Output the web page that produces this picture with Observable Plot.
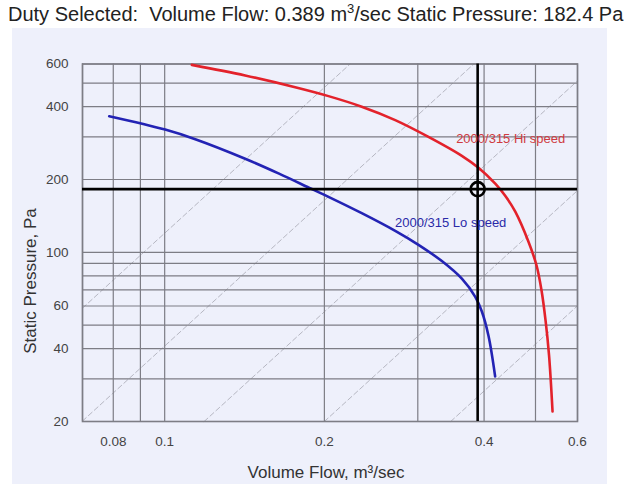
<!DOCTYPE html>
<html>
<head>
<meta charset="utf-8">
<script src="https://cdn.jsdelivr.net/npm/d3@7"></script>
<script src="https://cdn.jsdelivr.net/npm/@observablehq/plot@0.6"></script>
<style>
  html, body { margin: 0; padding: 0; background: #ffffff; }
  #wrap { position: relative; width: 626px; height: 484px; overflow: hidden; font-family: "Liberation Sans", Arial, sans-serif; }
  #title { position: absolute; left: 8px; top: 1px; font-size: 20px; line-height: 26px; color: #222; white-space: nowrap; }
  #title sup { font-size: 13px; line-height: 0; }
  #panel { position: absolute; left: 12px; top: 28px; width: 595px; height: 456px; background: #eef0fb; }
  #chart { position: absolute; left: 0; top: 28px; }
  #ytitle { position: absolute; left: 31px; top: 281px; transform: translate(-50%, -50%) rotate(-90deg); font-size: 17px; color: #333; white-space: nowrap; }
</style>
</head>
<body>
<div id="wrap">
  <div id="panel"></div>
  <div id="title">Duty Selected:&nbsp; Volume Flow: 0.389 m<sup>3</sup>/sec Static Pressure: 182.4 Pa</div>
  <div id="chart"></div>
  <div id="ytitle">Static Pressure, Pa</div>
</div>
<script>
// ---- data ----
const flowTicks = [0.08, 0.1, 0.2, 0.4, 0.6];
const pressureTicks = [20, 40, 60, 80, 100, 200, 400, 600];
const flowGrid = [0.07, 0.08, 0.09, 0.1, 0.2, 0.3, 0.4, 0.5, 0.6];
const pressureGrid = [20, 30, 40, 50, 60, 70, 80, 90, 100, 200, 300, 400, 500, 600];

const hiFlow =     [0.1125, 0.1418, 0.1762, 0.2036, 0.2352, 0.272, 0.3142, 0.3632, 0.3904, 0.4199, 0.4384, 0.458, 0.485, 0.5023, 0.5133, 0.5223, 0.5303, 0.5384];
const hiPressure = [595,    538,    481,    442,    399.7,  351.9, 300,    250.5,  223.5,  192.1,  171.4,  147.2, 110.6, 88.2,   69.5,   52.3,   37.5,   22.0];

const loFlow =     [0.0786, 0.1002, 0.1142, 0.1418, 0.1639, 0.1894, 0.2036, 0.2352, 0.272, 0.3009, 0.333, 0.3632, 0.385, 0.396, 0.4078, 0.4197];
const loPressure = [365.1,  321.5,  293.4,  243.7,  211.9,  182.6,  169.6,  145.2,  122.7, 107.4,  92.0,  77.8,   65.5,  57.1,  45.1,   30.7];

const systemK = [167, 500, 1420, 4100, 12000];   // P = k * Q^2 system lines
const dutyFlow = 0.389;
const dutyPressure = 182.4;

const seriesNames = ["2000/315 Hi speed", "2000/315 Lo speed"];
const labelFlow = [0.449, 0.346];
const labelPressure = [295, 133];

// ---- derived tables ----
const hi = hiFlow.map((q, i) => ({q, p: hiPressure[i]}));
const lo = loFlow.map((q, i) => ({q, p: loPressure[i]}));
const sys = [];
systemK.forEach((k) => {
  const qa = Math.max(0.07, Math.sqrt(20 / k));
  const qb = Math.min(0.6, Math.sqrt(600 / k));
  if (qb > qa) { sys.push({q: qa, p: k * qa * qa, k}); sys.push({q: qb, p: k * qb * qb, k}); }
});
const labels = seriesNames.map((t, i) => ({t, q: labelFlow[i], p: labelPressure[i]}));

const fmt = d => String(d);

const chart = Plot.plot({
  width: 626,
  height: 456,
  marginLeft: 82,
  marginRight: 49,
  marginTop: 35.5,
  marginBottom: 63,
  style: { background: "transparent", fontFamily: "'Liberation Sans', Arial, sans-serif" },
  x: { type: "log", domain: [0.07, 0.6], label: null, axis: null },
  y: { type: "log", domain: [20, 600], label: null },
  marks: [
    Plot.line(sys, {x: "q", y: "p", z: "k", stroke: "#b6b7c2", strokeWidth: 1, strokeDasharray: "5,3"}),
    Plot.ruleX(flowGrid, {stroke: "#7d7d85", strokeWidth: 1.2}),
    Plot.ruleY(pressureGrid, {stroke: "#7d7d85", strokeWidth: 1.2}),
    Plot.frame({stroke: "#7d7d85", strokeWidth: 1.6}),
    Plot.line(lo, {x: "q", y: "p", stroke: "#2323b4", strokeWidth: 2.6, curve: "catmull-rom"}),
    Plot.line(hi, {x: "q", y: "p", stroke: "#e3222b", strokeWidth: 2.6, curve: "catmull-rom"}),
    Plot.ruleX([dutyFlow], {stroke: "#000", strokeWidth: 2.6}),
    Plot.ruleY([dutyPressure], {stroke: "#000", strokeWidth: 2.6}),
    Plot.dot([{q: dutyFlow, p: dutyPressure}], {x: "q", y: "p", r: 7, stroke: "#000", strokeWidth: 2.6, fill: "none"}),
    Plot.text(labels, {x: "q", y: "p", text: "t", fill: (d, i) => i === 0 ? "#cf3a40" : "#2a2aa8", fontSize: 13}),
    Plot.text(flowTicks, {x: d => d, text: fmt, frameAnchor: "bottom", dy: 20, lineAnchor: "middle", fontSize: 13.5, fill: "#444"}),
    Plot.axisY(pressureTicks, {tickSize: 0, tickPadding: 14, tickFormat: fmt, fontSize: 13.5, fill: "#444", label: null}),
    Plot.text(["Volume Flow, m³/sec"], {frameAnchor: "bottom", dx: -4, dy: 51, fontSize: 17, fill: "#333", lineAnchor: "middle"})
  ]
});
document.getElementById("chart").appendChild(chart);
</script>
</body>
</html>
